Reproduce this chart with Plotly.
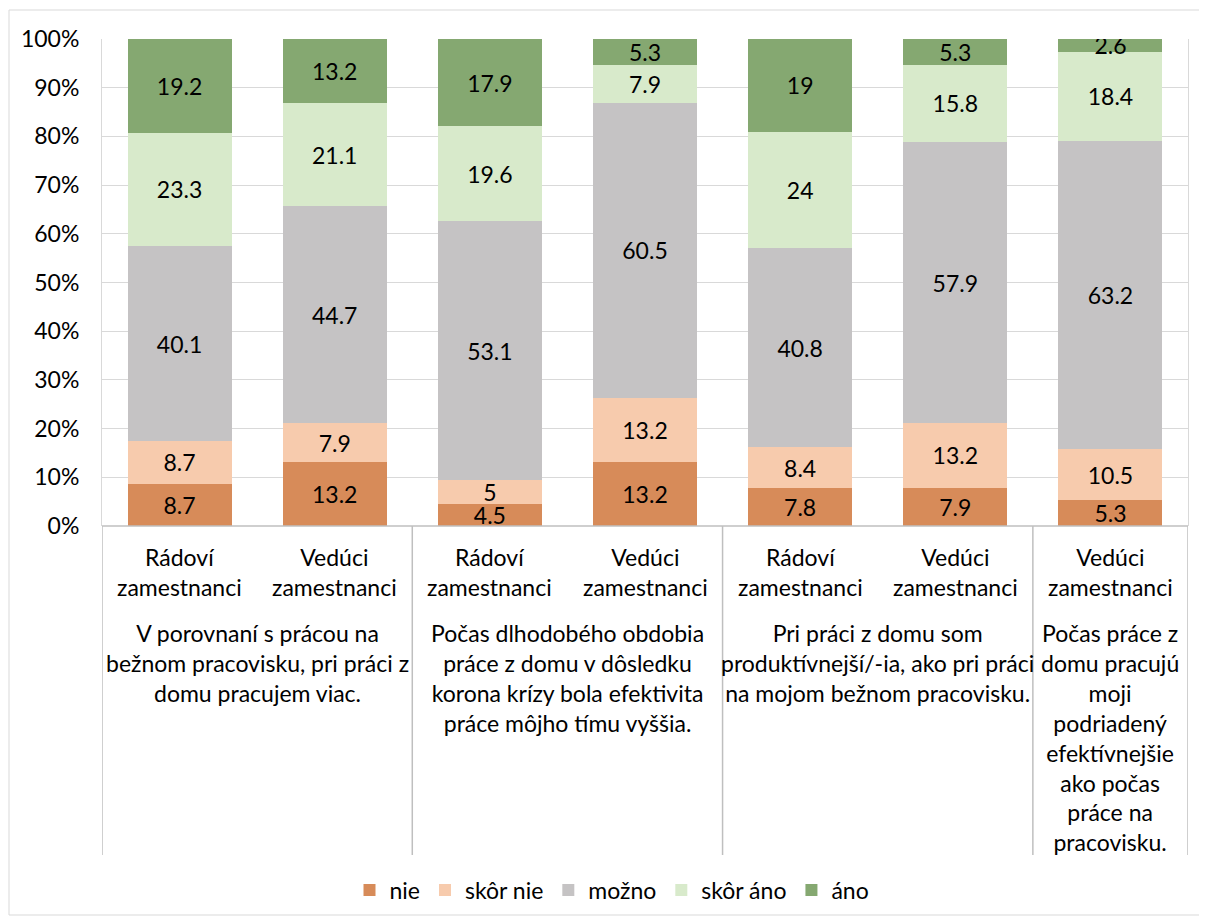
import plotly.graph_objects as go

# ---- data ----
inner_labels = ["Rádoví<br>zamestnanci", "Vedúci<br>zamestnanci",
                "Rádoví<br>zamestnanci", "Vedúci<br>zamestnanci",
                "Rádoví<br>zamestnanci", "Vedúci<br>zamestnanci",
                "Vedúci<br>zamestnanci"]
group_labels = [
    "V porovnaní s prácou na<br>bežnom pracovisku, pri práci z<br>domu pracujem viac.",
    "Počas dlhodobého obdobia<br>práce z domu v dôsledku<br>korona krízy bola efektivita<br>práce môjho tímu vyššia.",
    "Pri práci z domu som<br>produktívnejší/-ia, ako pri práci<br>na mojom bežnom pracovisku.",
    "Počas práce z<br>domu pracujú<br>moji<br>podriadený<br>efektívnejšie<br>ako počas<br>práce na<br>pracovisku.",
]
group_sizes = [2, 2, 2, 1]

series_names = ["nie", "skôr nie", "možno", "skôr áno", "áno"]
nie = [8.7, 13.2, 4.5, 13.2, 7.8, 7.9, 5.3]
skor_nie = [8.7, 7.9, 5, 13.2, 8.4, 13.2, 10.5]
mozno = [40.1, 44.7, 53.1, 60.5, 40.8, 57.9, 63.2]
skor_ano = [23.3, 21.1, 19.6, 7.9, 24, 15.8, 18.4]
ano = [19.2, 13.2, 17.9, 5.3, 19, 5.3, 2.6]
series_values = [nie, skor_nie, mozno, skor_ano, ano]
colors = ["#D78B59", "#F7CBAD", "#C5C3C4", "#D8EACB", "#85A871"]

FONT = "Lato"
FS = 23
x = list(range(len(inner_labels)))

fig = go.Figure()
for name, vals, col in zip(series_names, series_values, colors):
    fig.add_trace(go.Bar(
        x=x, y=vals, name=name, marker=dict(color=col, line=dict(width=0)),
        text=[f"{v:g}" for v in vals], textposition="inside",
        insidetextanchor="middle", textangle=0,
        textfont=dict(family=FONT, size=FS, color="#000000"),
        hoverinfo="skip",
    ))

# page offset (browser body margin)
OFF = 8
W, H = 1207 - OFF, 920 - OFF
L, R, T, B = 102 - OFF, 19, 39 - OFF, 394
pw, ph = W - L - R, H - T - B


def py(ypix):
    # ypix in screenshot coordinates
    return (H - B - (ypix - OFF)) / ph


def px(xpix):
    return (xpix - OFF - L) / pw


fig.update_layout(
    width=W, height=H,
    margin=dict(l=L, r=R, t=T, b=B, autoexpand=False),
    barmode="stack", barnorm="percent", bargap=0.33,
    plot_bgcolor="white", paper_bgcolor="white",
    font=dict(family=FONT, size=FS, color="#000000"),
    uniformtext=dict(minsize=FS, mode="show"),
    showlegend=True,
    legend=dict(orientation="h", x=px(612), y=py(890), xanchor="center",
                yanchor="middle", font=dict(family=FONT, size=FS),
                traceorder="normal", itemwidth=30),
    xaxis=dict(range=[-0.5, 6.5], showticklabels=False, showgrid=False,
               zeroline=False, showline=False, ticks=""),
    yaxis=dict(range=[0, 100], dtick=10, ticksuffix="%", showgrid=True,
               gridcolor="#D9D9D9", gridwidth=1, zeroline=False,
               showline=True, linecolor="#D9D9D9", mirror=True,
               ticks="", ticklabelstandoff=17,
               tickfont=dict(family=FONT, size=FS, color="#000000")),
)

# category axis box lines
shapes = []
bottom = py(855)
shapes.append(dict(type="line", xref="paper", yref="paper", x0=0, x1=1,
                   y0=0, y1=0, line=dict(color="#BFBFBF", width=1.5)))
bounds = [-0.5]
pos = -0.5
for s in group_sizes:
    pos += s
    bounds.append(pos)
for b in bounds:
    shapes.append(dict(type="line", xref="x", yref="paper", x0=b, x1=b,
                       y0=0, y1=bottom, line=dict(color="#BFBFBF", width=1.5)))
# outer chart border
shapes.append(dict(type="rect", xref="paper", yref="paper",
                   x0=px(9), x1=px(1205), y0=py(10), y1=py(915),
                   line=dict(color="#D9D9D9", width=1), fillcolor="rgba(0,0,0,0)",
                   layer="below"))
fig.update_layout(shapes=shapes)

annotations = []
for xi, lab in zip(x, inner_labels):
    annotations.append(dict(x=xi, xref="x", y=py(541), yref="paper",
                            text=lab, showarrow=False, yanchor="top",
                            xanchor="center", align="center",
                            font=dict(family=FONT, size=FS, color="#000000")))
for i, (lab, s) in enumerate(zip(group_labels, group_sizes)):
    cx = (bounds[i] + bounds[i + 1]) / 2
    annotations.append(dict(x=cx, xref="x", y=py(617), yref="paper",
                            text=lab, showarrow=False, yanchor="top",
                            xanchor="center", align="center",
                            font=dict(family=FONT, size=FS, color="#000000")))
fig.update_layout(annotations=annotations)

fig.write_html("out.html")
